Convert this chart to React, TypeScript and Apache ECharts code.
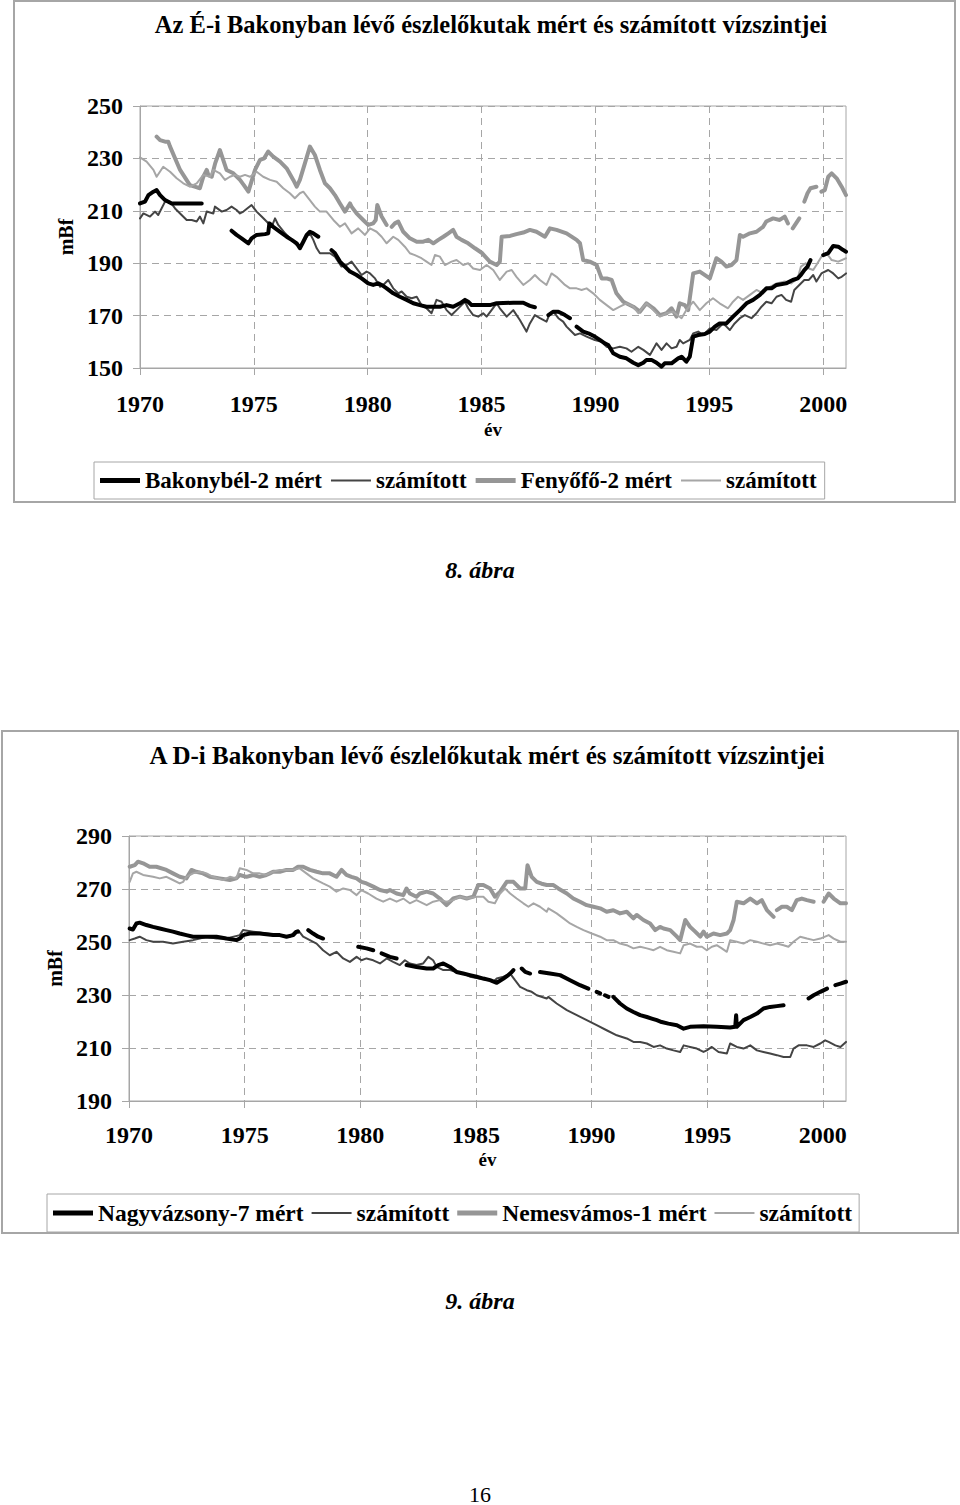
import React, { useEffect, useRef } from "react";
import * as echarts from "echarts";

type P = [number, number | null];

// ---------- Tick values ----------
const yearTicks = [1970, 1975, 1980, 1985, 1990, 1995, 2000];
const yTicks1 = [150, 170, 190, 210, 230, 250];
const yTicks2 = [190, 210, 230, 250, 270, 290];

// ---------- 8. ábra : É-i Bakony ----------
const bakonybelMert: P[] = [
  [1970.0, 212.8], [1970.22, 213.5], [1970.37, 216.0], [1970.59, 217.3], [1970.73, 217.9], [1970.88, 216.0],
  [1971.1, 214.1], [1971.39, 212.8], [1971.76, 212.8], [1972.19, 212.8], [1972.71, 212.8], [1973.3, null],
  [1974.02, 202.4], [1974.24, 200.8], [1974.46, 199.5], [1974.76, 197.6], [1974.9, 199.5], [1975.12, 200.8],
  [1975.49, 201.1], [1975.63, 201.4], [1975.68, 205.2], [1975.85, 203.9], [1976.15, 202.0], [1976.44, 200.1],
  [1976.66, 198.9], [1976.88, 197.6], [1977.02, 195.7], [1977.17, 198.2], [1977.32, 200.8], [1977.46, 202.0],
  [1977.61, 201.4], [1977.83, 200.1], [1978.1, null],
  [1978.41, 195.0], [1978.56, 193.8], [1978.78, 190.6], [1979.0, 188.7], [1979.22, 186.8], [1979.51, 185.5],
  [1979.73, 184.2], [1980.02, 182.3], [1980.24, 181.7], [1980.46, 182.3], [1980.61, 181.7], [1980.83, 180.4],
  [1981.12, 178.5], [1981.41, 177.2], [1981.71, 176.0], [1982.0, 174.7], [1982.29, 174.0], [1982.58, 173.4],
  [1983.17, 173.4], [1983.46, 174.0], [1983.75, 173.4], [1984.05, 174.7], [1984.27, 176.0], [1984.41, 175.3],
  [1984.56, 174.0], [1985.36, 174.0], [1985.66, 174.7], [1986.39, 174.9], [1986.83, 174.9], [1987.12, 173.7],
  [1987.34, 173.2], [1987.6, null],
  [1987.93, 170.2], [1988.15, 171.5], [1988.37, 171.5], [1988.51, 170.9], [1988.66, 170.2], [1988.88, 169.0],
  [1989.0, null],
  [1989.17, 165.8], [1989.46, 163.9], [1989.75, 163.0], [1989.97, 162.0], [1990.19, 160.7], [1990.41, 159.4],
  [1990.56, 158.8], [1990.78, 155.6], [1991.07, 154.3], [1991.36, 153.7], [1991.66, 152.0], [1991.88, 151.1],
  [1992.1, 152.0], [1992.24, 153.1], [1992.46, 153.1], [1992.68, 152.0], [1992.9, 150.5], [1993.04, 151.8],
  [1993.34, 151.8], [1993.63, 153.7], [1993.78, 154.3], [1993.99, 152.4], [1994.14, 154.3], [1994.29, 162.0],
  [1994.51, 162.6], [1994.8, 163.0], [1995.02, 163.9], [1995.24, 165.8], [1995.45, 167.0], [1995.75, 167.0],
  [1996.04, 169.6], [1996.34, 172.1], [1996.63, 174.7], [1996.92, 176.0], [1997.22, 177.9], [1997.5, 180.4],
  [1997.73, 180.4], [1997.95, 181.7], [1998.37, 182.3], [1998.66, 183.6], [1998.88, 184.2], [1999.02, 185.5],
  [1999.17, 187.4], [1999.31, 188.7], [1999.44, 191.2], [1999.7, null],
  [2000.0, 193.1], [2000.22, 193.8], [2000.44, 196.6], [2000.66, 196.3], [2000.88, 195.0], [2001.0, 194.4],
];

const bakonybelSzamitott: P[] = [
  [1970.0, 207.1], [1970.15, 209.0], [1970.44, 207.8], [1970.66, 209.7], [1970.8, 208.4], [1971.1, 213.5],
  [1971.32, 213.5], [1971.54, 210.9], [1971.76, 209.0], [1972.05, 206.5], [1972.27, 206.5], [1972.49, 205.9],
  [1972.63, 207.8], [1972.78, 205.2], [1972.93, 209.7], [1973.22, 209.0], [1973.29, 211.6], [1973.59, 209.7],
  [1973.8, 210.3], [1974.02, 211.6], [1974.24, 210.3], [1974.39, 209.0], [1974.54, 209.7], [1974.9, 212.2],
  [1975.12, 209.7], [1975.34, 207.8], [1975.56, 205.9], [1975.78, 203.9], [1975.93, 207.1], [1976.07, 204.6],
  [1976.37, 201.4], [1976.66, 198.9], [1976.88, 196.9], [1977.1, 196.9], [1977.32, 200.1], [1977.46, 201.4],
  [1977.61, 198.9], [1977.76, 195.7], [1977.9, 193.8], [1978.34, 193.8], [1978.56, 192.5], [1978.85, 188.7],
  [1979.07, 189.3], [1979.29, 190.6], [1979.51, 188.0], [1979.73, 185.5], [1979.95, 186.8], [1980.1, 186.1],
  [1980.32, 184.2], [1980.54, 181.0], [1980.68, 181.7], [1980.9, 183.6], [1981.12, 180.4], [1981.34, 178.5],
  [1981.49, 179.2], [1981.71, 177.2], [1981.93, 176.6], [1982.15, 177.2], [1982.36, 174.0], [1982.58, 172.8],
  [1982.8, 170.9], [1983.02, 176.0], [1983.24, 175.3], [1983.46, 172.1], [1983.68, 170.2], [1983.9, 172.1],
  [1984.12, 174.0], [1984.27, 175.3], [1984.41, 172.8], [1984.63, 170.2], [1984.85, 169.6], [1985.07, 170.9],
  [1985.22, 169.6], [1985.66, 174.7], [1985.8, 172.8], [1986.1, 169.6], [1986.39, 172.1], [1986.68, 168.3],
  [1986.97, 163.9], [1987.12, 167.0], [1987.34, 170.2], [1987.56, 169.0], [1987.85, 167.7], [1988.0, 170.9],
  [1988.15, 171.5], [1988.37, 169.0], [1988.58, 167.7], [1988.73, 165.8], [1988.88, 164.5], [1989.1, 162.6],
  [1989.32, 163.2], [1989.61, 162.0], [1989.97, 160.7], [1990.27, 160.0], [1990.49, 158.1], [1990.78, 157.5],
  [1991.07, 158.1], [1991.36, 157.5], [1991.58, 156.2], [1991.88, 158.1], [1992.1, 156.9], [1992.39, 155.0],
  [1992.68, 159.4], [1992.9, 156.9], [1993.12, 159.4], [1993.34, 157.5], [1993.56, 158.1], [1993.7, 160.7],
  [1993.85, 159.4], [1994.14, 160.7], [1994.29, 163.2], [1994.51, 163.9], [1994.73, 162.6], [1995.02, 165.1],
  [1995.31, 164.5], [1995.6, 167.0], [1995.75, 165.8], [1995.9, 164.5], [1996.11, 167.0], [1996.34, 169.0],
  [1996.56, 170.2], [1996.85, 169.0], [1997.07, 170.9], [1997.29, 173.4], [1997.5, 175.3], [1997.73, 174.7],
  [1997.95, 177.2], [1998.17, 177.9], [1998.37, 176.0], [1998.59, 175.3], [1998.73, 179.8], [1998.95, 181.7],
  [1999.17, 183.6], [1999.37, 183.6], [1999.56, 185.5], [1999.7, 183.0], [1999.92, 186.1], [2000.22, 187.4],
  [2000.44, 186.1], [2000.66, 184.2], [2000.81, 184.8], [2001.0, 186.1],
];

const fenyofoMert: P[] = [
  [1970.73, 238.3], [1970.88, 237.0], [1971.1, 236.4], [1971.24, 236.4], [1971.32, 234.5], [1971.76, 225.6],
  [1972.19, 219.8], [1972.4, 219.2], [1972.63, 218.6], [1972.78, 223.0], [1972.93, 225.6], [1973.0, 223.7],
  [1973.15, 223.0], [1973.3, 228.1], [1973.51, 233.2], [1973.8, 225.6], [1974.1, 224.3], [1974.39, 221.8],
  [1974.56, 219.8], [1974.76, 217.3], [1975.05, 225.6], [1975.27, 229.4], [1975.45, 230.0], [1975.63, 232.6],
  [1975.85, 230.7], [1976.15, 228.8], [1976.44, 226.2], [1976.73, 221.8], [1976.88, 219.2], [1977.02, 221.8],
  [1977.24, 228.1], [1977.46, 234.5], [1977.68, 231.3], [1977.9, 225.6], [1978.12, 220.5], [1978.34, 218.6],
  [1978.56, 216.0], [1978.78, 212.8], [1979.0, 209.7], [1979.22, 212.8], [1979.29, 211.6], [1979.51, 209.0],
  [1979.8, 206.5], [1980.02, 204.6], [1980.24, 205.2], [1980.35, 206.5], [1980.42, 212.2], [1980.61, 207.8],
  [1980.83, 204.6], [1980.94, null],
  [1981.05, 203.9], [1981.19, 205.2], [1981.34, 205.9], [1981.56, 202.0], [1981.85, 199.5], [1982.15, 198.2],
  [1982.44, 198.2], [1982.66, 198.9], [1982.88, 197.6], [1983.1, 198.9], [1983.32, 200.1], [1983.54, 201.4],
  [1983.75, 202.7], [1983.9, 200.1], [1984.12, 198.9], [1984.41, 197.6], [1984.71, 195.7], [1985.0, 194.0],
  [1985.36, 190.6], [1985.66, 189.3], [1985.8, 190.6], [1985.88, 200.1], [1986.25, 200.4], [1986.53, 201.1],
  [1986.83, 201.7], [1987.12, 202.7], [1987.41, 202.0], [1987.78, 200.1], [1988.0, 203.3], [1988.29, 202.7],
  [1988.73, 201.4], [1989.17, 198.9], [1989.32, 197.6], [1989.46, 191.2], [1989.75, 190.6], [1990.05, 189.3],
  [1990.27, 184.2], [1990.49, 184.2], [1990.71, 183.6], [1990.92, 178.5], [1991.22, 175.3], [1991.66, 173.4],
  [1991.95, 171.5], [1992.24, 174.7], [1992.54, 172.8], [1992.83, 170.2], [1993.12, 170.9], [1993.34, 172.8],
  [1993.56, 169.6], [1993.7, 174.7], [1993.92, 174.0], [1994.07, 172.1], [1994.29, 186.1], [1994.58, 186.8],
  [1995.02, 184.2], [1995.31, 191.9], [1995.53, 190.6], [1995.75, 188.7], [1995.97, 189.3], [1996.19, 191.2],
  [1996.34, 200.8], [1996.48, 200.1], [1996.78, 201.4], [1997.07, 202.0], [1997.36, 203.9], [1997.5, 205.9],
  [1997.8, 207.1], [1998.09, 206.5], [1998.31, 207.8], [1998.45, 205.2], [1998.55, null],
  [1998.66, 203.3], [1998.95, 207.1], [1999.06, null],
  [1999.17, 213.5], [1999.31, 216.7], [1999.44, 218.6], [1999.7, 219.2], [1999.81, null],
  [1999.92, 217.3], [2000.07, 217.9], [2000.22, 223.0], [2000.37, 224.3], [2000.59, 222.4], [2000.81, 219.2],
  [2001.0, 216.0],
];

const fenyofoSzamitott: P[] = [
  [1970.0, 230.4], [1970.29, 228.8], [1970.59, 225.6], [1970.73, 223.0], [1971.02, 226.8], [1971.32, 224.9],
  [1971.61, 222.4], [1971.9, 220.5], [1972.19, 219.2], [1972.49, 220.5], [1972.78, 223.7], [1973.07, 223.0],
  [1973.22, 225.6], [1973.51, 224.3], [1973.73, 221.8], [1973.95, 223.0], [1974.17, 223.7], [1974.39, 223.0],
  [1974.61, 223.7], [1974.83, 223.0], [1975.12, 224.9], [1975.41, 223.0], [1975.71, 221.8], [1976.0, 221.1],
  [1976.29, 218.6], [1976.58, 216.7], [1976.8, 214.8], [1977.02, 216.7], [1977.17, 217.3], [1977.39, 214.8],
  [1977.68, 211.6], [1977.9, 209.7], [1978.19, 209.7], [1978.49, 206.5], [1978.78, 203.9], [1979.0, 205.2],
  [1979.29, 201.4], [1979.58, 203.3], [1979.88, 200.8], [1980.1, 203.3], [1980.39, 202.0], [1980.61, 200.1],
  [1980.83, 197.6], [1981.12, 200.1], [1981.34, 198.9], [1981.63, 196.3], [1981.85, 193.8], [1982.07, 193.1],
  [1982.36, 191.9], [1982.58, 190.6], [1982.8, 189.3], [1982.95, 193.1], [1983.17, 192.5], [1983.39, 189.3],
  [1983.68, 190.6], [1983.9, 191.2], [1984.19, 189.3], [1984.41, 190.0], [1984.63, 188.0], [1984.93, 187.4],
  [1985.22, 189.3], [1985.51, 187.4], [1985.8, 183.6], [1986.1, 186.8], [1986.32, 187.4], [1986.53, 184.8],
  [1986.83, 181.7], [1987.12, 183.6], [1987.34, 185.5], [1987.56, 183.6], [1987.85, 181.7], [1988.07, 186.1],
  [1988.29, 184.8], [1988.66, 181.7], [1988.88, 180.4], [1989.17, 180.4], [1989.39, 179.8], [1989.61, 180.4],
  [1989.9, 178.5], [1990.19, 176.0], [1990.49, 174.0], [1990.78, 172.1], [1991.07, 173.4], [1991.36, 174.7],
  [1991.66, 173.4], [1991.88, 170.9], [1992.1, 173.4], [1992.24, 174.7], [1992.54, 172.1], [1992.83, 169.6],
  [1993.12, 170.9], [1993.41, 171.5], [1993.78, 169.0], [1993.99, 172.1], [1994.29, 175.3], [1994.58, 172.1],
  [1994.87, 174.7], [1995.16, 176.6], [1995.45, 174.7], [1995.82, 172.8], [1996.04, 175.3], [1996.26, 177.2],
  [1996.48, 176.0], [1996.78, 177.9], [1997.07, 179.8], [1997.36, 178.5], [1997.66, 181.0], [1997.95, 182.3],
  [1998.31, 183.0], [1998.59, 182.3], [1998.88, 184.2], [1999.02, 188.7], [1999.24, 190.0], [1999.37, 188.0],
  [1999.56, 187.4], [1999.7, 189.3], [1999.92, 192.5], [2000.15, 193.8], [2000.37, 191.2], [2000.66, 190.6],
  [2001.0, 191.9],
];

// ---------- 9. ábra : D-i Bakony ----------
const nagyvazsonyMert: P[] = [
  [1970.03, 255.1], [1970.17, 254.7], [1970.32, 257.0], [1970.46, 257.3], [1970.75, 256.4], [1971.04, 255.7],
  [1971.33, 255.1], [1971.62, 254.5], [1971.9, 253.9], [1972.19, 253.2], [1972.48, 252.6], [1972.77, 252.0],
  [1973.35, 252.0], [1973.78, 252.0], [1974.21, 251.3], [1974.64, 250.7], [1974.79, 251.3], [1974.93, 252.6],
  [1975.22, 253.2], [1975.65, 253.2], [1976.23, 252.6], [1976.52, 252.6], [1976.81, 252.0], [1977.1, 252.6],
  [1977.24, 253.9], [1977.31, 253.9], [1977.5, null],
  [1977.75, 254.5], [1977.96, 253.2], [1978.18, 252.0], [1978.39, 251.3], [1979.0, null],
  [1979.91, 248.2], [1980.27, 247.6], [1980.56, 246.9], [1980.75, null],
  [1980.92, 245.7], [1981.28, 244.4], [1981.57, 243.8], [1981.78, null],
  [1982.0, 241.3], [1982.43, 240.6], [1982.87, 240.0], [1983.15, 240.0], [1983.37, 241.3], [1983.59, 241.9],
  [1983.88, 240.6], [1984.16, 238.7], [1984.45, 238.1], [1984.74, 237.5], [1985.03, 236.9], [1985.32, 236.2],
  [1985.61, 235.6], [1985.9, 234.6], [1986.19, 236.2], [1986.4, 237.5], [1986.55, 238.7], [1986.62, 239.4],
  [1986.8, null],
  [1986.98, 240.0], [1987.13, 238.7], [1987.34, 238.1], [1987.55, null],
  [1987.77, 238.7], [1988.2, 238.1], [1988.64, 237.5], [1989.07, 235.6], [1989.5, 233.7], [1989.86, 232.4],
  [1990.05, null],
  [1990.22, 231.2], [1990.37, 230.6], [1990.45, null],
  [1990.58, 229.9], [1990.73, 229.3], [1990.83, null],
  [1990.94, 229.3], [1991.23, 226.8], [1991.52, 224.9], [1991.81, 223.6], [1992.1, 222.4], [1992.39, 221.7],
  [1992.6, 221.1], [1992.82, 220.5], [1993.03, 219.8], [1993.32, 219.2], [1993.69, 218.6], [1993.98, 217.3],
  [1994.26, 218.0], [1994.84, 218.2], [1995.41, 218.0], [1995.99, 217.7], [1996.21, 218.0], [1996.25, 222.4],
  [1996.28, 218.0], [1996.57, 220.5], [1996.86, 221.7], [1997.15, 223.0], [1997.43, 224.9], [1997.72, 225.5],
  [1998.01, 225.8], [1998.3, 226.1], [1998.8, null],
  [1999.38, 228.7], [1999.6, 229.9], [1999.89, 231.2], [2000.18, 232.4], [2000.35, null],
  [2000.54, 233.7], [2000.76, 234.3], [2001.0, 235.0],
];

const nagyvazsonySzamitott: P[] = [
  [1970.03, 250.7], [1970.25, 251.3], [1970.46, 252.0], [1970.75, 250.7], [1971.04, 250.1], [1971.47, 250.1],
  [1971.9, 249.4], [1972.34, 250.1], [1972.77, 250.7], [1973.06, 251.3], [1973.35, 252.0], [1973.78, 251.3],
  [1974.21, 251.3], [1974.79, 252.6], [1974.93, 254.5], [1975.37, 253.9], [1975.94, 253.2], [1976.52, 252.6],
  [1976.95, 252.0], [1977.17, 253.9], [1977.31, 254.5], [1977.53, 252.0], [1977.82, 250.7], [1978.11, 249.4],
  [1978.39, 246.9], [1978.68, 245.0], [1978.97, 246.3], [1979.26, 243.8], [1979.55, 242.5], [1979.84, 244.4],
  [1980.05, 243.1], [1980.27, 243.8], [1980.56, 243.1], [1980.85, 241.9], [1981.14, 243.8], [1981.42, 242.5],
  [1981.71, 241.3], [1981.93, 243.1], [1982.14, 241.9], [1982.43, 241.3], [1982.72, 241.9], [1982.94, 244.4],
  [1983.15, 243.1], [1983.3, 240.6], [1983.59, 239.4], [1983.88, 239.4], [1984.16, 238.7], [1984.45, 238.1],
  [1984.74, 236.9], [1985.17, 236.2], [1985.54, 235.6], [1985.75, 235.0], [1985.9, 236.2], [1986.19, 236.9],
  [1986.48, 238.1], [1986.69, 235.6], [1986.91, 233.1], [1987.2, 231.8], [1987.41, 231.2], [1987.63, 229.9],
  [1988.06, 228.7], [1988.13, 229.3], [1988.49, 226.8], [1988.93, 224.3], [1989.36, 222.4], [1989.79, 220.5],
  [1990.22, 218.6], [1990.65, 216.7], [1991.09, 214.8], [1991.52, 213.6], [1991.81, 212.3], [1992.1, 212.3],
  [1992.39, 211.7], [1992.68, 210.4], [1992.96, 211.0], [1993.25, 209.8], [1993.54, 209.1], [1993.83, 208.5],
  [1993.98, 211.0], [1994.26, 210.4], [1994.55, 209.8], [1994.84, 208.5], [1994.98, 209.1], [1995.2, 210.4],
  [1995.49, 208.5], [1995.85, 207.9], [1995.99, 211.7], [1996.28, 210.4], [1996.57, 209.8], [1996.86, 211.0],
  [1997.15, 209.1], [1997.43, 208.5], [1997.72, 207.9], [1998.01, 207.3], [1998.3, 206.6], [1998.59, 206.6],
  [1998.73, 209.8], [1998.95, 211.0], [1999.31, 211.0], [1999.6, 210.4], [1999.89, 211.7], [2000.1, 212.9],
  [2000.25, 212.3], [2000.54, 211.0], [2000.76, 210.4], [2001.0, 212.3],
];

const nemesvamosMert: P[] = [
  [1970.03, 278.4], [1970.25, 279.0], [1970.39, 280.3], [1970.61, 279.7], [1970.89, 278.4], [1971.18, 278.4],
  [1971.62, 277.2], [1971.9, 275.9], [1972.19, 274.6], [1972.48, 274.0], [1972.7, 277.2], [1972.91, 276.5],
  [1973.2, 275.9], [1973.49, 274.6], [1973.92, 274.0], [1974.36, 273.4], [1974.64, 274.0], [1974.79, 275.3],
  [1975.08, 274.6], [1975.37, 275.3], [1975.65, 274.6], [1975.94, 275.3], [1976.09, 275.9], [1976.23, 276.5],
  [1976.52, 276.5], [1976.81, 277.2], [1977.1, 277.2], [1977.31, 278.4], [1977.53, 278.4], [1977.82, 277.2],
  [1978.11, 276.5], [1978.39, 275.9], [1978.68, 275.9], [1978.97, 274.6], [1979.19, 277.2], [1979.4, 275.3],
  [1979.62, 274.6], [1979.84, 274.0], [1980.05, 272.7], [1980.27, 272.1], [1980.56, 270.9], [1980.85, 269.6],
  [1981.14, 269.0], [1981.28, 269.6], [1981.57, 268.3], [1981.86, 267.7], [1982.0, 270.2], [1982.14, 268.3],
  [1982.43, 267.1], [1982.58, 268.3], [1982.87, 269.0], [1983.15, 268.3], [1983.44, 266.4], [1983.73, 263.9],
  [1984.02, 266.4], [1984.31, 267.1], [1984.6, 266.4], [1984.89, 267.1], [1985.1, 271.5], [1985.32, 271.5],
  [1985.61, 270.2], [1985.82, 267.1], [1986.04, 268.9], [1986.33, 272.7], [1986.62, 272.7], [1986.91, 270.2],
  [1987.13, 270.2], [1987.23, 279.0], [1987.41, 274.6], [1987.63, 272.7], [1987.84, 272.0], [1988.06, 271.5],
  [1988.35, 271.5], [1988.56, 270.2], [1988.93, 268.3], [1989.21, 266.4], [1989.5, 265.2], [1989.79, 263.9],
  [1990.08, 263.3], [1990.37, 262.7], [1990.65, 261.4], [1990.94, 262.0], [1991.23, 260.8], [1991.52, 261.4],
  [1991.81, 258.9], [1991.95, 260.2], [1992.24, 258.3], [1992.53, 257.0], [1992.75, 254.5], [1992.96, 255.7],
  [1993.11, 255.1], [1993.4, 254.5], [1993.69, 252.0], [1993.83, 250.7], [1994.05, 258.3], [1994.26, 255.7],
  [1994.48, 253.9], [1994.7, 252.0], [1994.84, 253.9], [1994.98, 252.0], [1995.27, 253.2], [1995.56, 252.6],
  [1995.85, 253.2], [1995.99, 254.5], [1996.14, 258.3], [1996.28, 265.2], [1996.57, 264.6], [1996.86, 266.4],
  [1997.15, 264.6], [1997.36, 265.8], [1997.58, 262.0], [1997.87, 259.5], [1997.94, null],
  [1998.01, 262.0], [1998.23, 263.3], [1998.44, 263.3], [1998.66, 262.0], [1998.87, 265.8], [1999.09, 266.4],
  [1999.31, 265.8], [1999.6, 265.2], [1999.8, null],
  [2000.03, 265.2], [2000.25, 268.3], [2000.47, 266.4], [2000.76, 264.6], [2001.0, 264.6],
];

const nemesvamosSzamitott: P[] = [
  [1970.03, 272.7], [1970.17, 275.9], [1970.32, 276.5], [1970.61, 275.3], [1971.04, 274.6], [1971.33, 274.0],
  [1971.62, 274.6], [1971.9, 273.4], [1972.19, 272.1], [1972.34, 272.7], [1972.48, 274.6], [1972.77, 275.9],
  [1973.06, 276.5], [1973.35, 275.9], [1973.63, 274.6], [1974.07, 273.4], [1974.36, 274.6], [1974.64, 274.0],
  [1974.79, 277.8], [1975.08, 277.2], [1975.37, 275.9], [1975.65, 275.9], [1975.94, 275.3], [1976.23, 276.5],
  [1976.52, 277.2], [1977.1, 277.2], [1977.38, 277.8], [1977.67, 275.9], [1977.96, 274.0], [1978.39, 272.1],
  [1978.68, 270.9], [1978.97, 269.0], [1979.26, 270.2], [1979.55, 269.6], [1979.84, 267.7], [1980.05, 269.6],
  [1980.34, 268.3], [1980.7, 266.4], [1980.99, 265.2], [1981.28, 266.4], [1981.57, 265.2], [1981.86, 266.4],
  [1982.14, 264.6], [1982.43, 265.8], [1982.87, 263.9], [1983.15, 265.2], [1983.44, 265.8], [1983.73, 265.2],
  [1984.02, 265.8], [1984.31, 267.1], [1984.6, 266.4], [1985.03, 267.1], [1985.32, 267.1], [1985.54, 265.2],
  [1985.82, 264.6], [1986.04, 268.3], [1986.26, 270.2], [1986.48, 268.3], [1986.76, 266.4], [1987.05, 264.6],
  [1987.27, 263.3], [1987.49, 264.6], [1987.77, 263.3], [1988.06, 261.4], [1988.13, 262.7], [1988.49, 260.8],
  [1988.78, 258.9], [1989.07, 257.0], [1989.36, 255.7], [1989.65, 254.5], [1990.01, 253.2], [1990.37, 252.0],
  [1990.65, 250.7], [1990.94, 250.7], [1991.23, 249.4], [1991.52, 248.8], [1991.81, 247.6], [1992.1, 248.2],
  [1992.39, 247.6], [1992.68, 246.9], [1992.96, 248.2], [1993.25, 246.9], [1993.54, 246.3], [1993.83, 245.7],
  [1993.98, 248.8], [1994.26, 249.4], [1994.55, 248.2], [1994.77, 248.2], [1994.98, 246.9], [1995.2, 248.2],
  [1995.41, 248.8], [1995.63, 247.6], [1995.85, 246.3], [1995.99, 250.7], [1996.28, 250.1], [1996.57, 249.4],
  [1996.86, 250.7], [1997.15, 250.1], [1997.43, 249.4], [1997.72, 248.8], [1998.01, 249.4], [1998.3, 248.8],
  [1998.51, 248.2], [1998.73, 250.1], [1999.02, 252.0], [1999.31, 251.3], [1999.6, 250.7], [1999.89, 251.3],
  [2000.25, 252.6], [2000.47, 251.3], [2000.76, 250.1], [2001.0, 250.1],
];

// ---------- Labels ----------
const title1 = "Az É-i Bakonyban lévő észlelőkutak mért és számított vízszintjei";
const title2 = "A D-i Bakonyban lévő észlelőkutak mért és számított vízszintjei";
const caption1 = "8. ábra";
const caption2 = "9. ábra";
const pageNumber = "16";
const xName = "év";
const yName = "mBf";

const legendLabels1: Record<string, string> = {
  "Bakonybél-2 mért": "Bakonybél-2 mért",
  "Bakonybél-2 számított": "számított",
  "Fenyőfő-2 mért": "Fenyőfő-2 mért",
  "Fenyőfő-2 számított": "számított",
};
const legendLabels2: Record<string, string> = {
  "Nagyvázsony-7 mért": "Nagyvázsony-7 mért",
  "Nagyvázsony-7 számított": "számított",
  "Nemesvámos-1 mért": "Nemesvámos-1 mért",
  "Nemesvámos-1 számított": "számított",
};

const FONT = "'Liberation Serif', 'Times New Roman', serif";
const GRID_GRAY = "#a6a6a6";
const THICK_ICON = "path://M0,0H40V5H0Z";
const THIN_ICON = "path://M0,0H40V2H0Z";

function makeXAxis(gridIndex: number, nameGap: number, labelMargin: number) {
  return {
    type: "value",
    gridIndex,
    min: 1970,
    max: 2001,
    interval: 5,
    name: xName,
    nameLocation: "middle",
    nameGap,
    nameTextStyle: { fontFamily: FONT, fontWeight: "bold", fontSize: 19, color: "#000" },
    axisLine: { show: true, lineStyle: { color: GRID_GRAY, width: 1 } },
    axisTick: { show: true, length: 7, lineStyle: { color: GRID_GRAY }, customValues: yearTicks },
    axisLabel: {
      margin: labelMargin,
      fontFamily: FONT,
      fontWeight: "bold",
      fontSize: 24,
      color: "#000",
      customValues: yearTicks,
      formatter: (v: number) => (yearTicks.indexOf(v) >= 0 ? String(v) : ""),
    },
    splitLine: { show: true, lineStyle: { color: GRID_GRAY, type: [7, 5], width: 1 } },
  };
}

function makeYAxis(gridIndex: number, ticks: number[], nameGap: number) {
  return {
    type: "value",
    gridIndex,
    min: ticks[0],
    max: ticks[ticks.length - 1],
    interval: 20,
    name: yName,
    nameLocation: "middle",
    nameGap,
    nameRotate: 90,
    nameTextStyle: { fontFamily: FONT, fontWeight: "bold", fontSize: 20, color: "#000" },
    axisLine: { show: true, lineStyle: { color: GRID_GRAY, width: 1 } },
    axisTick: { show: true, length: 7, lineStyle: { color: GRID_GRAY } },
    axisLabel: { margin: 17, fontFamily: FONT, fontWeight: "bold", fontSize: 24, color: "#000" },
    splitLine: { show: true, lineStyle: { color: GRID_GRAY, type: [7, 5], width: 1 } },
  };
}

function lineSeries(name: string, data: P[], idx: number, color: string, width: number, z: number) {
  return {
    type: "line",
    name,
    data,
    xAxisIndex: idx,
    yAxisIndex: idx,
    showSymbol: false,
    symbol: "none",
    connectNulls: false,
    silent: true,
    z,
    lineStyle: { color, width, join: "round", cap: "round" },
    itemStyle: { color },
  };
}

function makeLegend(
  left: number,
  top: number,
  names: string[],
  labels: Record<string, string>,
  fontSize: number,
  itemGap: number,
  padding: number[],
) {
  return {
    left,
    top,
    orient: "horizontal",
    selectedMode: false,
    padding,
    itemGap,
    itemWidth: 40,
    itemHeight: 14,
    borderColor: "#a6a6a6",
    borderWidth: 1,
    textStyle: { fontFamily: FONT, fontWeight: "bold", fontSize, color: "#000" },
    data: names.map((n, i) => ({ name: n, icon: i % 2 === 0 ? THICK_ICON : THIN_ICON })),
    formatter: (n: string) => labels[n] ?? n,
  };
}

export default function App() {
  const ref = useRef<HTMLDivElement>(null);
  useEffect(() => {
    if (!ref.current) return;
    const chart = echarts.init(ref.current, undefined, { renderer: "svg" });
    const textStyle = (size: number, weight = "bold", style = "normal") => ({
      font: `${style} ${weight} ${size}px ${FONT}`,
      fill: "#000",
      textAlign: "center",
      textVerticalAlign: "middle",
    });
    chart.setOption({
      animation: false,
      backgroundColor: "#fff",
      grid: [
        { left: 140, top: 106, width: 706, height: 262, show: true, borderColor: GRID_GRAY, borderWidth: 1, containLabel: false },
        { left: 129, top: 836, width: 717, height: 265, show: true, borderColor: GRID_GRAY, borderWidth: 1, containLabel: false },
      ],
      xAxis: [makeXAxis(0, 52, 24), makeXAxis(1, 49, 22)],
      yAxis: [makeYAxis(0, yTicks1, 62), makeYAxis(1, yTicks2, 63)],
      legend: [
        makeLegend(94, 462, ["Bakonybél-2 mért", "Bakonybél-2 számított", "Fenyőfő-2 mért", "Fenyőfő-2 számított"], legendLabels1, 23, 9, [7, 8, 7, 6]),
        makeLegend(47, 1194, ["Nagyvázsony-7 mért", "Nagyvázsony-7 számított", "Nemesvámos-1 mért", "Nemesvámos-1 számított"], legendLabels2, 23.5, 8, [7, 7, 7, 6]),
      ],
      series: [
        lineSeries("Fenyőfő-2 mért", fenyofoMert, 0, "#969696", 4, 2),
        lineSeries("Fenyőfő-2 számított", fenyofoSzamitott, 0, "#a6a6a6", 2, 3),
        lineSeries("Bakonybél-2 számított", bakonybelSzamitott, 0, "#444444", 2, 4),
        lineSeries("Bakonybél-2 mért", bakonybelMert, 0, "#000000", 4, 5),
        lineSeries("Nemesvámos-1 mért", nemesvamosMert, 1, "#969696", 4, 2),
        lineSeries("Nemesvámos-1 számított", nemesvamosSzamitott, 1, "#a6a6a6", 2, 3),
        lineSeries("Nagyvázsony-7 számított", nagyvazsonySzamitott, 1, "#444444", 2, 4),
        lineSeries("Nagyvázsony-7 mért", nagyvazsonyMert, 1, "#000000", 4, 5),
      ],
      graphic: [
        { type: "rect", shape: { x: 14, y: 1, width: 941, height: 501 }, style: { fill: "none", stroke: "#a6a6a6", lineWidth: 2 }, z: 0, silent: true },
        { type: "rect", shape: { x: 2, y: 731, width: 956, height: 502 }, style: { fill: "none", stroke: "#a6a6a6", lineWidth: 2 }, z: 0, silent: true },
        { type: "text", x: 491, y: 24, style: { text: title1, ...textStyle(24.5) }, silent: true },
        { type: "text", x: 487, y: 755, style: { text: title2, ...textStyle(25) }, silent: true },
        { type: "text", x: 480, y: 570, style: { text: caption1, ...textStyle(24, "bold", "italic") }, silent: true },
        { type: "text", x: 480, y: 1301, style: { text: caption2, ...textStyle(24, "bold", "italic") }, silent: true },
        { type: "text", x: 480, y: 1494, style: { text: pageNumber, ...textStyle(22, "normal") }, silent: true },
      ],
    });
    return () => chart.dispose();
  }, []);
  return (
    <div
      ref={ref}
      style={{ position: "absolute", left: 0, top: 0, width: 960, height: 1505, background: "#fff" }}
    />
  );
}
